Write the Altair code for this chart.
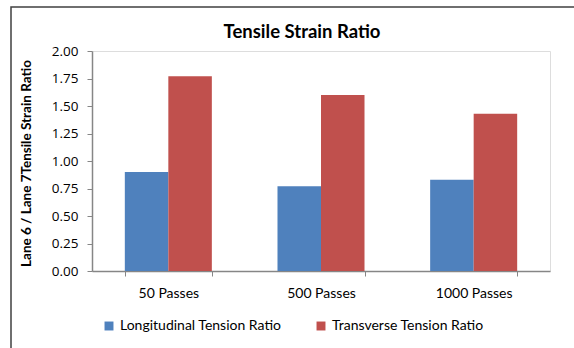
import altair as alt
import pandas as pd

categories = ["50 Passes", "500 Passes", "1000 Passes"]
series_names = ["Longitudinal Tension Ratio", "Transverse Tension Ratio"]
longitudinal = [0.90, 0.77, 0.83]
transverse = [1.77, 1.60, 1.43]
y_ticks = [0, 0.25, 0.5, 0.75, 1.0, 1.25, 1.5, 1.75, 2.0]
colors = ["#4F81BD", "#C0504D"]

rows = []
for c, a, b in zip(categories, longitudinal, transverse):
    rows.append({"cat": c, "series": series_names[0], "value": a})
    rows.append({"cat": c, "series": series_names[1], "value": b})
df = pd.DataFrame(rows)

FONT = "Lato"

bars = alt.Chart(df).mark_bar().encode(
    x=alt.X("cat:N", sort=categories,
            scale=alt.Scale(paddingInner=0.43, paddingOuter=0.215),
            axis=alt.Axis(title=None, labelAngle=0, labelFontSize=14, labelFont=FONT,
                          labelColor="#000000", labelPadding=10, tickSize=5,
                          tickColor="#868686", domainColor="#868686", tickBand="extent",
                          domainWidth=1.5)),
    xOffset=alt.XOffset("series:N", sort=series_names, scale=alt.Scale(paddingInner=0, paddingOuter=0)),
    y=alt.Y("value:Q", scale=alt.Scale(domain=[0, 2], nice=False),
            axis=alt.Axis(values=y_ticks, format=".2f", grid=False,
                          title="Lane 6 / Lane 7Tensile  Strain Ratio",
                          titleFont=FONT, titleFontSize=13.5, titleFontWeight="bold",
                          titleColor="#000000", titleX=-66, titleY=112, titleAngle=-90,
                          titleAlign="center", titleBaseline="middle",
                          labelFontSize=13.5, labelFont="Open Sans", labelColor="#000000",
                          labelPadding=9, tickSize=5, tickColor="#868686",
                          domainColor="#868686", domainWidth=1.5)),
    color=alt.Color("series:N", sort=series_names,
                    scale=alt.Scale(domain=series_names, range=colors),
                    legend=alt.Legend(title=None, orient="none", legendX=10, legendY=268,
                                      direction="horizontal", symbolType="square",
                                      symbolSize=80, symbolStrokeWidth=0,
                                      labelFont=FONT, labelFontSize=14, labelColor="#000000",
                                      labelLimit=400, columnPadding=32, labelOffset=4)),
)

frame = alt.Chart(pd.DataFrame({"k": [0]})).mark_rect(
    filled=False, stroke="#404040", strokeWidth=1.5
).encode(x=alt.value(-81), y=alt.value(-44), x2=alt.value(700), y2=alt.value(400))

chart = alt.layer(frame, bars).properties(
    width=458, height=220,
    title=alt.TitleParams("Tensile Strain Ratio", font=FONT, fontSize=18.5, fontWeight="bold",
                          color="#000000", dx=-19, dy=35, offset=0),
    autosize=alt.AutoSizeParams(type="none"),
    padding={"left": 92, "top": 51, "right": 24, "bottom": 77},
).configure_view(stroke="#404040", strokeWidth=1.2).configure(background="white")

chart.save("out.html", embed_options={"renderer": "svg", "actions": False})
